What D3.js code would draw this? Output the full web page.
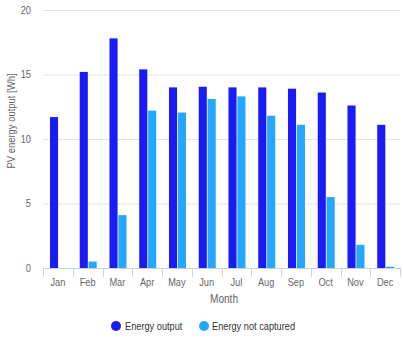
<!DOCTYPE html>
<html>
<head>
<meta charset="utf-8">
<script src="https://cdn.jsdelivr.net/npm/d3@7"></script>
<style>
  html, body { margin: 0; padding: 0; background: #fff; }
  svg text { font-family: "Liberation Sans", Arial, Helvetica, sans-serif; fill: #666; }
</style>
</head>
<body>
<svg id="chart" width="403" height="338"></svg>
<script>
const months = ["Jan", "Feb", "Mar", "Apr", "May", "Jun", "Jul", "Aug", "Sep", "Oct", "Nov", "Dec"];
const energyOutput = [11.7, 15.2, 17.8, 15.4, 14.0, 14.05, 14.0, 14.0, 13.9, 13.6, 12.6, 11.1];
const energyNotCaptured = [0, 0.5, 4.1, 12.2, 12.05, 13.1, 13.3, 11.8, 11.1, 5.5, 1.8, 0.1];
const seriesNames = ["Energy output", "Energy not captured"];
const seriesColors = ["#1a1cf5", "#24a8ff"];
const yTicks = [0, 5, 10, 15, 20];

(function () {
const svg = d3.select("#chart");
const plotLeft = 43, plotRight = 400, plotTop = 10, plotBottom = 268;
const narrow = 0.84; // horizontal squeeze for the narrow label face

const x = d3.scaleBand().domain(months).range([plotLeft, plotRight]).paddingInner(0).paddingOuter(0);
const inner = d3.scaleBand().domain(seriesNames).range([0, 17]).paddingInner(0.09);
const y = d3.scaleLinear().domain([0, 20]).range([plotBottom, plotTop]);

// horizontal gridlines
svg.append("g").selectAll("line").data(yTicks).join("line")
  .attr("x1", plotLeft).attr("x2", plotRight)
  .attr("y1", d => y(d) + 0.5).attr("y2", d => y(d) + 0.5)
  .attr("stroke", d => d === 0 ? "#c9d3de" : "#e3e3e3").attr("stroke-width", 1);

// y tick labels
svg.append("g").selectAll("text").data(yTicks).join("text")
  .attr("transform", d => `translate(31,${y(d)}) scale(${narrow},1)`)
  .attr("dy", "0.35em")
  .attr("text-anchor", "end").attr("font-size", 11).text(d => d);

// category tick marks on x axis
const bounds = months.map(m => x(m)).concat([plotRight]);
svg.append("g").selectAll("line").data(bounds).join("line")
  .attr("x1", d => Math.round(d) + 0.5).attr("x2", d => Math.round(d) + 0.5)
  .attr("y1", plotBottom).attr("y2", plotBottom + 9)
  .attr("stroke", "#c9d3de");

// x tick labels
svg.append("g").selectAll("text").data(months).join("text")
  .attr("transform", d => `translate(${x(d) + x.bandwidth() / 2},282) scale(${narrow},1)`)
  .attr("dy", "0.35em")
  .attr("text-anchor", "middle").attr("font-size", 11).text(d => d);

// bars
const rows = months.map((m, i) => ({ month: m, values: [energyOutput[i], energyNotCaptured[i]] }));
const groupOffset = (x.bandwidth() - 17) / 2 + 0.6;
const groups = svg.append("g").selectAll("g").data(rows).join("g")
  .attr("transform", d => `translate(${x(d.month) + groupOffset},0)`);
groups.selectAll("rect").data(d => d.values.map((v, k) => ({ v, k })))
  .join("rect")
  .attr("x", d => inner(seriesNames[d.k]))
  .attr("width", inner.bandwidth())
  .attr("y", d => y(d.v))
  .attr("height", d => y(0) - y(d.v))
  .attr("fill", d => seriesColors[d.k]);

// axis titles
svg.append("text").attr("transform", `translate(224,299) scale(${narrow},1)`)
  .attr("dy", "0.35em")
  .attr("text-anchor", "middle").attr("font-size", 12).text("Month");
svg.append("text").attr("transform", `translate(11,121) rotate(-90) scale(0.86,1)`)
  .attr("dy", "0.35em").attr("text-anchor", "middle").attr("font-size", 11)
  .text("PV energy output [Wh]");

// legend
const legendItems = [{ cx: 116, tx: 125 }, { cx: 204, tx: 212 }];
const legend = svg.append("g").selectAll("g").data(seriesNames).join("g");
legend.append("circle").attr("cx", (d, i) => legendItems[i].cx).attr("cy", 326)
  .attr("r", 5).attr("fill", (d, i) => seriesColors[i]);
legend.append("text")
  .attr("transform", (d, i) => `translate(${legendItems[i].tx},326) scale(${narrow},1)`)
  .attr("dy", "0.35em")
  .attr("font-size", 11).style("fill", "#333").text(d => d);
})();
</script>
</body>
</html>
